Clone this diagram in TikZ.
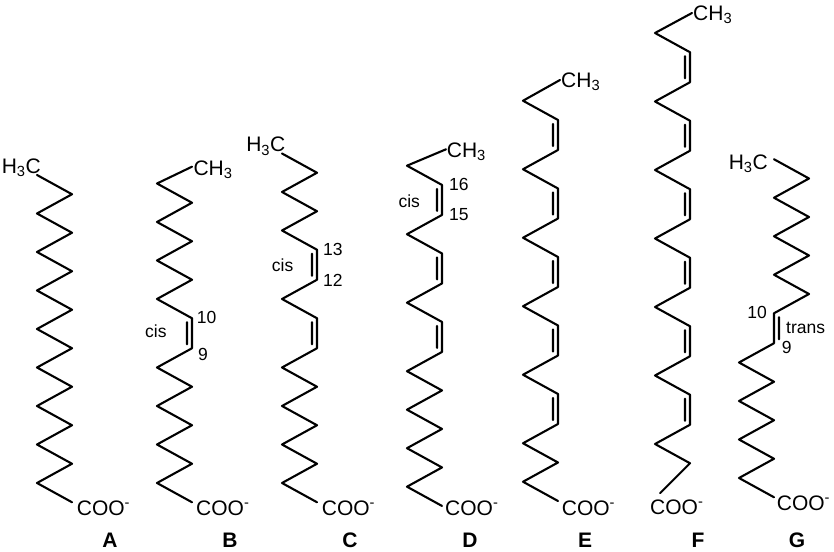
\documentclass[tikz,border=0pt]{standalone}
\usepackage{fontspec}
\setmainfont{Liberation Sans}
\usepackage{tikz}

\begin{document}
\begin{tikzpicture}[x=1pt,y=1pt,line cap=round,line join=round,
    bond/.style={line width=2.1pt},
    grp/.style={inner sep=0pt,font=\fontsize{21}{25}\selectfont},
    num/.style={inner sep=0pt,font=\fontsize{17.5}{21}\selectfont},
    tag/.style={inner sep=0pt,font=\fontsize{21}{25}\selectfont\bfseries}]

        \useasboundingbox (0,0) rectangle (834,551);

        % A: gesaettigte Kette
        \draw[bond] (37,376) \foreach \i in {1,...,8} {-- ++(35,-19.25) -- ++(-35,-19.25)} -- ++(35,-19.25);
        \node[grp,anchor=base east] (ma) at (41,377.5) {H\textsubscript{3}C};
        \node[grp,anchor=base west] (ca) at (76.7,36) {COO\textsuperscript{-}};
        \node[tag,anchor=base] (la) at (110,4) {A};

        % B: cis 9
        \draw[bond] (192,384.3) -- (157,367.5) \foreach \i in {1,2,3} {-- ++(35,-19.25) -- ++(-35,-19.25)} -- ++(35,-19.25)
            -- ++(0,-30) ++(-5,4) -- ++(0,22) ++(5,-26) \foreach \i in {1,...,4} {-- ++(-35,-19.25) -- ++(35,-19.25)};
        \node[grp,anchor=base west] (mb) at (193.3,375.5) {CH\textsubscript{3}};
        \node[grp,anchor=base west] (cb) at (196,36) {COO\textsuperscript{-}};
        \node[num,anchor=base west] (b10) at (196.7,227.7) {10};
        \node[num,anchor=base west] (b9) at (198,190.3) {9};
        \node[num,anchor=base west] (bcis) at (145,213) {cis};
        \node[tag,anchor=base] (lb) at (230,4) {B};

        % C: cis 12
        \draw[bond] (282,397.5) \foreach \i in {1,2} {-- ++(35,-19.25) -- ++(-35,-19.25)} -- ++(35,-19.25)
            -- ++(0,-30) ++(-5,4) -- ++(0,22) ++(5,-26) -- ++(-35,-19.25) -- ++(35,-19.25)
            -- ++(0,-30) ++(-5,4) -- ++(0,22) ++(5,-26) \foreach \i in {1,...,4} {-- ++(-35,-19.25) -- ++(35,-19.25)};
        \node[grp,anchor=base east] (mc) at (285.5,399) {H\textsubscript{3}C};
        \node[grp,anchor=base west] (cc) at (321.7,36) {COO\textsuperscript{-}};
        \node[num,anchor=base west] (c13) at (323,295.1) {13};
        \node[num,anchor=base west] (c12) at (323,264.1) {12};
        \node[num,anchor=base west] (ccis) at (271.7,279.3) {cis};
        \node[tag,anchor=base] (lc) at (350,4) {C};

        % D: cis 15
        \draw[bond] (446,401.7) -- (407,385.3) -- ++(35,-19.25) -- ++(0,-30) ++(-5,4) -- ++(0,22) ++(5,-26)
            \foreach \i in {1,2} {-- ++(-35,-19.25) -- ++(35,-19.25) -- ++(0,-30) ++(-5,4) -- ++(0,22) ++(5,-26)}
            \foreach \i in {1,...,4} {-- ++(-35,-19.25) -- ++(35,-19.25)};
        \node[grp,anchor=base west] (md) at (446.7,393.8) {CH\textsubscript{3}};
        \node[grp,anchor=base west] (cd) at (445,36) {COO\textsuperscript{-}};
        \node[num,anchor=base west] (d16) at (449,360.1) {16};
        \node[num,anchor=base west] (d15) at (449,330.1) {15};
        \node[num,anchor=base west] (dcis) at (398.3,343.7) {cis};
        \node[tag,anchor=base] (ld) at (470,4) {D};

        % E
        \draw[bond] (560,471) -- (523,450.25) -- ++(35,-19.25)
            \foreach \i in {1,...,4} {-- ++(0,-30) ++(-5,4) -- ++(0,22) ++(5,-26) -- ++(-35,-19.25) -- ++(35,-19.25)}
            -- ++(0,-30) ++(-5,4) -- ++(0,22) ++(5,-26) \foreach \i in {1,2} {-- ++(-35,-19.25) -- ++(35,-19.25)};
        \node[grp,anchor=base west] (me) at (561,463.8) {CH\textsubscript{3}};
        \node[grp,anchor=base west] (ce) at (561.7,36) {COO\textsuperscript{-}};
        \node[tag,anchor=base] (le) at (585,4) {E};

        % F
        \draw[bond] (692,538) -- (655,518) -- ++(35,-19.25)
            \foreach \i in {1,...,5} {-- ++(0,-30) ++(-5,4) -- ++(0,22) ++(5,-26) -- ++(-35,-19.25) -- ++(35,-19.25)}
            -- ++(0,-30) ++(-5,4) -- ++(0,22) ++(5,-26) -- ++(-35,-19.25) -- ++(35,-19.25) -- ++(-30,-30);
        \node[grp,anchor=base west] (mf) at (693,530.8) {CH\textsubscript{3}};
        \node[grp,anchor=base west] (cf) at (650,36.7) {COO\textsuperscript{-}};
        \node[tag,anchor=base] (lf) at (698,4) {F};

        % G: trans 9
        \draw[bond] (774,391.75) \foreach \i in {1,...,4} {-- ++(35,-19.25) -- ++(-35,-19.25)}
            -- ++(0,-30) ++(5,4) -- ++(0,22) ++(-5,-26) \foreach \i in {1,...,4} {-- ++(-35,-19.25) -- ++(35,-19.25)};
        \node[grp,anchor=base east] (mg) at (768,381.8) {H\textsubscript{3}C};
        \node[grp,anchor=base west] (cg) at (776.7,40.5) {COO\textsuperscript{-}};
        \node[num,anchor=base east] (g10) at (767,232.1) {10};
        \node[num,anchor=base west] (gtrans) at (786,217) {trans};
        \node[num,anchor=base west] (g9) at (781.7,197) {9};
        \node[tag,anchor=base] (lg) at (797,4) {G};

\end{tikzpicture}
\end{document}
